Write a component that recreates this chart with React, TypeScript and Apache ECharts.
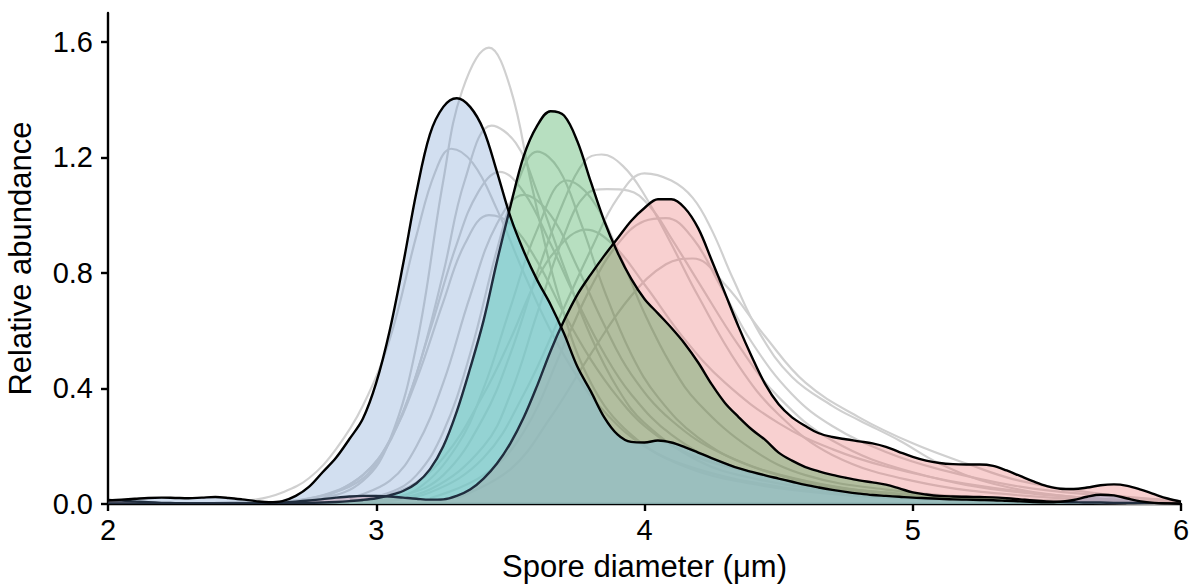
import React, { useEffect, useRef } from "react";
import * as echarts from "echarts";

// x grid (µm) shared by the three highlighted density curves
const XS = [
  2, 2.05, 2.1, 2.15, 2.2, 2.25, 2.3, 2.35, 2.4, 2.45,
  2.5, 2.55, 2.6, 2.65, 2.7, 2.75, 2.8, 2.85, 2.9, 2.95,
  3, 3.05, 3.1, 3.15, 3.2, 3.25, 3.3, 3.35, 3.4, 3.45,
  3.5, 3.55, 3.6, 3.65, 3.7, 3.75, 3.8, 3.85, 3.9, 3.95,
  4, 4.05, 4.1, 4.15, 4.2, 4.25, 4.3, 4.35, 4.4, 4.45,
  4.5, 4.55, 4.6, 4.65, 4.7, 4.75, 4.8, 4.85, 4.9, 4.95,
  5, 5.05, 5.1, 5.15, 5.2, 5.25, 5.3, 5.35, 5.4, 5.45,
  5.5, 5.55, 5.6, 5.65, 5.7, 5.75, 5.8, 5.85, 5.9, 5.95,
  6,
];

const BLUE = [
  0.012, 0.015, 0.018, 0.021, 0.022, 0.021, 0.02, 0.022, 0.024, 0.021,
  0.016, 0.01, 0.006, 0.01, 0.028, 0.06, 0.11, 0.16, 0.225, 0.295,
  0.42, 0.6, 0.83, 1.08, 1.28, 1.375, 1.405, 1.375, 1.295, 1.15,
  0.995, 0.875, 0.775, 0.69, 0.59, 0.475, 0.39, 0.3, 0.24, 0.215,
  0.213, 0.22, 0.213, 0.197, 0.178, 0.159, 0.141, 0.124, 0.111, 0.099,
  0.088, 0.077, 0.066, 0.057, 0.049, 0.042, 0.036, 0.031, 0.028, 0.025,
  0.022, 0.02, 0.018, 0.016, 0.015, 0.014, 0.013, 0.011, 0.009, 0.007,
  0.006, 0.008, 0.014, 0.025, 0.032, 0.03, 0.019, 0.009, 0.004, 0.002,
  0.001,
];

const GREEN = [
  0.002, 0.002, 0.002, 0.002, 0.002, 0.002, 0.002, 0.002, 0.002, 0.002,
  0.002, 0.002, 0.002, 0.002, 0.003, 0.004, 0.005, 0.007, 0.01, 0.014,
  0.02, 0.03, 0.045, 0.072, 0.12, 0.2, 0.32, 0.47, 0.635, 0.84,
  1.03, 1.205, 1.31, 1.36, 1.345, 1.255, 1.115, 0.98, 0.87, 0.78,
  0.71, 0.66, 0.61, 0.555, 0.49, 0.415, 0.35, 0.302, 0.258, 0.222,
  0.178, 0.15, 0.128, 0.113, 0.101, 0.091, 0.082, 0.075, 0.067, 0.054,
  0.04, 0.033, 0.028, 0.026, 0.025, 0.024, 0.023, 0.02, 0.016, 0.012,
  0.009, 0.007, 0.006, 0.005, 0.005, 0.004, 0.004, 0.003, 0.003, 0.002,
  0.002,
];

const RED = [
  0.014, 0.012, 0.009, 0.006, 0.004, 0.003, 0.002, 0.002, 0.002, 0.002,
  0.002, 0.002, 0.003, 0.005, 0.008, 0.012, 0.017, 0.022, 0.026, 0.028,
  0.028, 0.026, 0.022, 0.018, 0.015, 0.016, 0.028, 0.05, 0.088, 0.14,
  0.21, 0.3, 0.41, 0.53, 0.635, 0.725, 0.795, 0.86, 0.92, 0.98,
  1.025, 1.055, 1.055, 1.025, 0.955, 0.845, 0.73, 0.615, 0.51, 0.415,
  0.345, 0.3, 0.27, 0.245, 0.232, 0.224, 0.217, 0.21, 0.198, 0.18,
  0.163, 0.15, 0.142, 0.138, 0.137, 0.137, 0.132, 0.116, 0.097, 0.078,
  0.062, 0.053, 0.052, 0.057, 0.065, 0.068, 0.063, 0.05, 0.034, 0.019,
  0.008,
];

// individual sample curves drawn in light grey behind the fills: [x, y]
const GREY_A = [[2.6, 0.005], [2.8, 0.02], [2.95, 0.08], [3.05, 0.22], [3.15, 0.55], [3.25, 1.12], [3.32, 1.43], [3.42, 1.58], [3.5, 1.44], [3.58, 1.1], [3.68, 0.72], [3.8, 0.42], [3.95, 0.24], [4.15, 0.13], [4.4, 0.07], [4.7, 0.035], [5.0, 0.018], [5.5, 0.006], [6.0, 0.001]];
const GREY_B = [[2.6, 0.005], [2.8, 0.03], [2.95, 0.1], [3.05, 0.22], [3.15, 0.45], [3.25, 0.8], [3.33, 1.12], [3.43, 1.31], [3.52, 1.25], [3.6, 1.08], [3.7, 0.82], [3.8, 0.58], [3.9, 0.4], [4.0, 0.28], [4.2, 0.15], [4.4, 0.09], [4.7, 0.045], [5.0, 0.022], [5.5, 0.008], [6.0, 0.002]];
const GREY_C = [[2.4, 0.004], [2.55, 0.015], [2.65, 0.04], [2.75, 0.09], [2.85, 0.19], [2.95, 0.34], [3.05, 0.57], [3.15, 0.93], [3.22, 1.15], [3.28, 1.23], [3.36, 1.18], [3.45, 1.02], [3.55, 0.8], [3.65, 0.6], [3.75, 0.44], [3.85, 0.32], [4.0, 0.2], [4.2, 0.12], [4.5, 0.06], [4.8, 0.03], [5.2, 0.012], [6.0, 0.002]];
const GREY_D = [[2.7, 0.01], [2.9, 0.06], [3.0, 0.14], [3.1, 0.32], [3.2, 0.6], [3.3, 0.9], [3.38, 1.08], [3.46, 1.15], [3.55, 1.08], [3.65, 0.9], [3.75, 0.7], [3.85, 0.52], [3.95, 0.38], [4.1, 0.24], [4.3, 0.14], [4.6, 0.07], [5.0, 0.03], [5.5, 0.01], [6.0, 0.002]];
const GREY_E = [[2.9, 0.005], [3.1, 0.03], [3.25, 0.1], [3.4, 0.3], [3.5, 0.52], [3.6, 0.8], [3.7, 1.05], [3.78, 1.19], [3.84, 1.21], [3.92, 1.17], [4.0, 1.07], [4.1, 0.9], [4.2, 0.72], [4.35, 0.48], [4.5, 0.31], [4.7, 0.17], [5.0, 0.08], [5.4, 0.03], [6.0, 0.005]];
const GREY_F = [[3.0, 0.008], [3.2, 0.04], [3.4, 0.16], [3.55, 0.38], [3.7, 0.68], [3.8, 0.88], [3.9, 1.06], [4.0, 1.145], [4.1, 1.12], [4.18, 1.06], [4.25, 0.95], [4.33, 0.78], [4.43, 0.59], [4.55, 0.44], [4.7, 0.34], [4.8, 0.29], [4.95, 0.22], [5.1, 0.14], [5.3, 0.07], [5.6, 0.025], [6.0, 0.005]];
const GREY_G = [[3.0, 0.01], [3.2, 0.05], [3.4, 0.2], [3.5, 0.38], [3.6, 0.66], [3.7, 0.93], [3.78, 1.07], [3.86, 1.09], [3.94, 1.085], [4.02, 1.03], [4.1, 0.92], [4.2, 0.77], [4.35, 0.55], [4.5, 0.37], [4.7, 0.22], [5.0, 0.11], [5.4, 0.04], [6.0, 0.005]];
const GREY_H = [[2.9, 0.01], [3.05, 0.04], [3.15, 0.1], [3.25, 0.25], [3.35, 0.52], [3.45, 0.88], [3.53, 1.12], [3.6, 1.22], [3.68, 1.16], [3.76, 0.98], [3.85, 0.74], [3.95, 0.52], [4.05, 0.37], [4.2, 0.23], [4.4, 0.13], [4.7, 0.06], [5.0, 0.03], [5.5, 0.01], [6.0, 0.002]];
const GREY_I = [[3.0, 0.01], [3.15, 0.05], [3.3, 0.2], [3.4, 0.4], [3.5, 0.68], [3.6, 0.95], [3.71, 1.12], [3.8, 1.06], [3.9, 0.88], [4.0, 0.66], [4.1, 0.48], [4.2, 0.35], [4.4, 0.19], [4.6, 0.1], [4.9, 0.05], [5.3, 0.02], [6.0, 0.003]];
const GREY_J = [[3.2, 0.02], [3.4, 0.1], [3.55, 0.25], [3.7, 0.55], [3.8, 0.75], [3.9, 0.9], [4.0, 0.98], [4.08, 0.99], [4.18, 0.92], [4.28, 0.76], [4.4, 0.56], [4.55, 0.38], [4.7, 0.27], [4.9, 0.18], [5.1, 0.12], [5.4, 0.06], [5.7, 0.03], [6.0, 0.01]];
const GREY_K = [[2.9, 0.01], [3.1, 0.05], [3.25, 0.16], [3.4, 0.38], [3.5, 0.57], [3.6, 0.78], [3.7, 0.91], [3.78, 0.95], [3.88, 0.9], [4.0, 0.76], [4.15, 0.57], [4.3, 0.42], [4.5, 0.28], [4.7, 0.19], [4.9, 0.13], [5.2, 0.07], [5.6, 0.025], [6.0, 0.005]];
const GREY_L = [[2.8, 0.02], [2.95, 0.1], [3.05, 0.22], [3.15, 0.43], [3.25, 0.7], [3.33, 0.9], [3.42, 1.0], [3.5, 0.97], [3.6, 0.84], [3.7, 0.66], [3.8, 0.5], [3.9, 0.37], [4.0, 0.27], [4.15, 0.18], [4.35, 0.12], [4.6, 0.07], [4.9, 0.04], [5.3, 0.015], [6.0, 0.002]];
const GREY_M = [[2.9, 0.02], [3.05, 0.08], [3.15, 0.2], [3.25, 0.42], [3.35, 0.72], [3.45, 0.97], [3.55, 1.07], [3.65, 1.0], [3.75, 0.82], [3.85, 0.62], [3.95, 0.45], [4.1, 0.29], [4.3, 0.17], [4.6, 0.08], [5.0, 0.03], [5.5, 0.01], [6.0, 0.002]];
const GREY_N = [[3.3, 0.02], [3.5, 0.12], [3.65, 0.3], [3.8, 0.52], [3.95, 0.72], [4.08, 0.83], [4.18, 0.85], [4.3, 0.76], [4.45, 0.58], [4.6, 0.42], [4.8, 0.3], [5.0, 0.21], [5.2, 0.14], [5.4, 0.08], [5.7, 0.035], [6.0, 0.01]];

const GREY_CURVES = [GREY_A, GREY_B, GREY_C, GREY_D, GREY_E, GREY_F, GREY_G, GREY_H, GREY_I, GREY_J, GREY_K, GREY_L, GREY_M, GREY_N];

const X_MIN = 2;
const X_MAX = 6;
const Y_MAX = 1.7;
const Y_TICKS = [0, 0.4, 0.8, 1.2, 1.6];

const FONT = '"Liberation Sans", Arial, Helvetica, sans-serif';
const SMOOTH = 0.35;

function pairs(ys: number[]) {
  return XS.map((x, i) => [x, ys[i]]);
}

const MIN_BG = BLUE.map((b, i) => Math.min(b, GREEN[i]));
const MIN_BGR = BLUE.map((b, i) => Math.min(b, GREEN[i], RED[i]));

function areaSeries(ys: number[], color: string, opacity: number, z: number) {
  return {
    type: "line",
    data: pairs(ys),
    smooth: SMOOTH,
    symbol: "none",
    showSymbol: false,
    silent: true,
    z,
    lineStyle: { width: 0, opacity: 0 },
    areaStyle: { color, opacity },
  };
}

function outlineSeries(ys: number[], z: number) {
  return {
    type: "line",
    data: pairs(ys),
    smooth: SMOOTH,
    symbol: "none",
    showSymbol: false,
    silent: true,
    z,
    lineStyle: { color: "#000", width: 2.4 },
  };
}

const option = {
  animation: false,
  backgroundColor: "#fff",
  textStyle: { fontFamily: FONT },
  grid: { left: 108, right: 12, top: 13, bottom: 82, containLabel: false, outerBoundsMode: "none" },
  xAxis: {
    type: "value",
    min: X_MIN,
    max: X_MAX,
    interval: 1,
    name: "Spore diameter (μm)",
    nameLocation: "middle",
    nameGap: 47,
    nameTextStyle: { fontSize: 31, color: "#000", fontFamily: FONT },
    axisLine: { show: true, onZero: false, lineStyle: { color: "#000", width: 2.4 } },
    axisTick: { show: true, length: 7, lineStyle: { color: "#000", width: 2.4 } },
    axisLabel: { fontSize: 29, color: "#000", margin: 11, fontFamily: FONT },
    splitLine: { show: false },
  },
  yAxis: {
    type: "value",
    min: 0,
    max: Y_MAX,
    name: "Relative abundance",
    nameLocation: "middle",
    nameGap: 72,
    nameTextStyle: { fontSize: 31, color: "#000", fontFamily: FONT },
    axisLine: { show: true, lineStyle: { color: "#000", width: 2.4 } },
    axisTick: { show: true, length: 7, lineStyle: { color: "#000", width: 2.4 }, customValues: Y_TICKS },
    axisLabel: {
      customValues: Y_TICKS,
      fontSize: 29,
      color: "#000",
      margin: 15,
      fontFamily: FONT,
      formatter: (v: number) => v.toFixed(1),
    },
    splitLine: { show: false },
  },
  series: [
    ...GREY_CURVES.map((g) => ({
      type: "line",
      data: g,
      smooth: 0.4,
      symbol: "none",
      showSymbol: false,
      silent: true,
      z: 1,
      lineStyle: { color: "#d0d0d0", width: 2.2 },
    })),
    areaSeries(RED, "rgb(232,98,98)", 0.3, 2),
    areaSeries(GREEN, "rgb(15,148,45)", 0.3, 3),
    areaSeries(MIN_BG, "rgb(150,253,235)", 0.5, 4),
    areaSeries(MIN_BGR, "rgb(195,191,164)", 0.4, 5),
    outlineSeries(RED, 6),
    outlineSeries(GREEN, 6),
    areaSeries(BLUE, "rgb(105,148,205)", 0.3, 7),
    outlineSeries(BLUE, 8),
  ],
};

export default function App() {
  const ref = useRef<HTMLDivElement>(null);
  useEffect(() => {
    if (!ref.current) return;
    const chart = echarts.init(ref.current, null, { renderer: "svg" });
    chart.setOption(option as any);
    return () => chart.dispose();
  }, []);
  return (
    <div
      ref={ref}
      style={{ position: "fixed", left: 0, top: 0, width: 1193, height: 586, background: "#fff" }}
    />
  );
}
